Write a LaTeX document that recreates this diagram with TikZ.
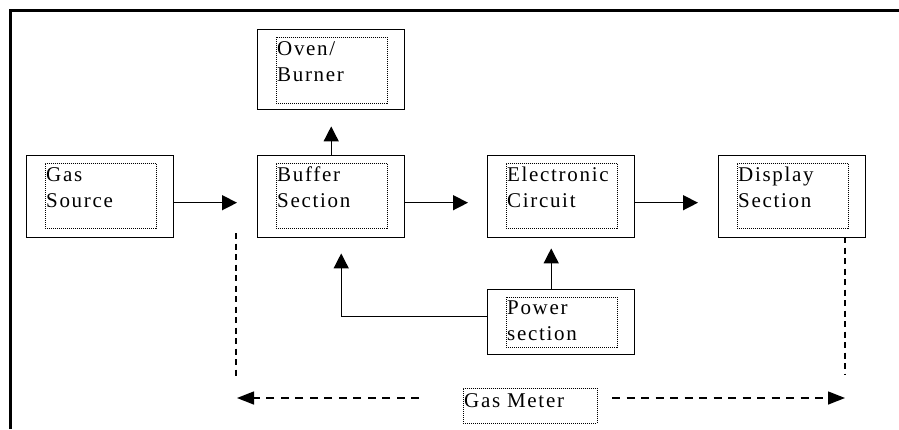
\documentclass[tikz,border=0pt]{standalone}
\usepackage{fontspec}
\setmainfont{Liberation Serif}
\usetikzlibrary{arrows.meta}

\tikzset{
  block/.style={draw, line width=1.4pt, anchor=north west, minimum width=147pt, inner sep=0pt},
  textframe/.style={draw, line width=0.8pt, dash pattern=on 1pt off 1pt, anchor=north west, minimum width=111pt, inner sep=0pt},
  blockfont/.style={font=\fontsize{21}{26}\selectfont\addfontfeature{LetterSpace=8}},
  blocktext/.style={blockfont, anchor=north west, inner sep=0pt, align=left},
  flow/.style={line width=1.4pt, -{Triangle[length=15pt,width=15pt]}},
  meterline/.style={line width=1.4pt, dash pattern=on 6pt off 4.5pt},
  meterarrow/.style={line width=1.4pt, dash pattern=on 8pt off 6.5pt, -{Triangle[length=17pt,width=13pt]}},
}

\begin{document}
\begin{tikzpicture}[x=1pt,y=-1pt]
\useasboundingbox[fill=white] (0,0) rectangle (899,429);

% page frame
\draw[line width=3pt] (10,429) -- (10,10) -- (899,10);

% the blocks, each with its dotted text frame
\foreach \nm/\x/\y/\h/\ih/\txt in {
  gas/26/155/82/65/{Gas\\Source},
  oven/257/29/80/66/{Oven/\\Burner},
  buffer/257/155/82/65/{Buffer\\Section},
  circuit/487/155/82/65/{Electronic\\Circuit},
  display/718/155/82/65/{Display\\Section},
  power/487/289/65/50/{Power\\section}}
{
  \node[block, minimum height=\h] (\nm) at (\x,\y) {};
  \node[textframe, minimum height=\ih] (\nm-f) at ([shift={(19,8)}]\nm.north west) {};
  \node[blocktext] (\nm-t) at ([shift={(1,4)}]\nm-f.north west) {\txt};
}

% gas flow and signal paths
\draw[flow, shorten >=20pt] ([yshift=-6pt]gas.east) -- ([yshift=-6pt]buffer.west);
\draw[flow, shorten >=16pt] (buffer.north) -- (oven.south);
\draw[flow, shorten >=19pt] ([yshift=-6pt]buffer.east) -- ([yshift=-6pt]circuit.west);
\draw[flow, shorten >=20pt] ([yshift=-6pt]circuit.east) -- ([yshift=-6pt]display.west);
\draw[flow, shorten >=10pt] ([xshift=-10pt]power.north) -- ([xshift=-10pt]circuit.south);
\draw[flow, shorten >=15pt] ([yshift=6pt]power.west) -| ([xshift=10pt]buffer.south);

% extent of the meter
\node[textframe, minimum width=134pt, minimum height=35pt] (meter) at (463,388) {};
\node[blocktext] (meter-t) at ([shift={(1,5)}]meter.north west) {Gas Meter};
\coordinate (ltop) at (236,233);
\coordinate (lbot) at (236,378);
\coordinate (rtop) at (845,237);
\coordinate (rbot) at (845,374);
\coordinate (lstart) at (419,398);
\coordinate (ltip) at (237,398);
\coordinate (rstart) at (612,398);
\coordinate (rtip) at (845,398);
\draw[meterline] (ltop) -- (lbot);
\draw[meterline] (rtop) -- (rbot);
\draw[meterarrow] (lstart) -- (ltip);
\draw[meterarrow] (rstart) -- (rtip);
\end{tikzpicture}
\end{document}
